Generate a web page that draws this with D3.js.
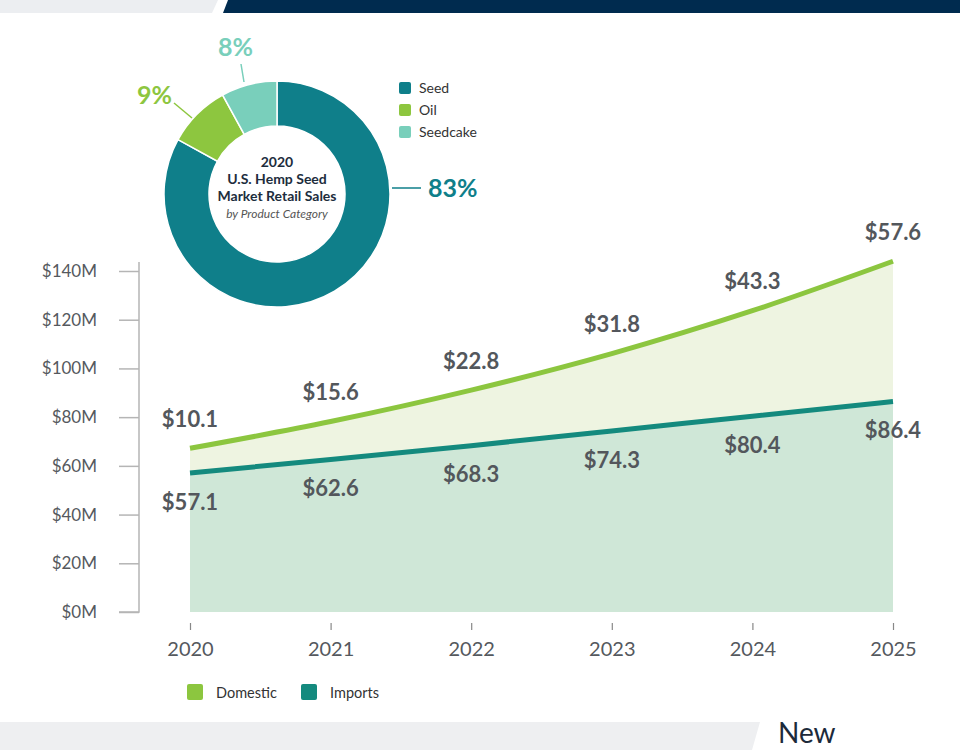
<!DOCTYPE html>
<html><head><meta charset="utf-8">
<script src="https://cdn.jsdelivr.net/npm/d3@7"></script>
<style>body{margin:0;background:#fff;}svg{display:block;font-family:Lato,"Open Sans",sans-serif;}</style>
</head><body>
<svg id="c" width="960" height="750"></svg>
<script>
const years = [2020, 2021, 2022, 2023, 2024, 2025];
const imports = [57.1, 62.6, 68.3, 74.3, 80.4, 86.4];
const domestic = [10.1, 15.6, 22.8, 31.8, 43.3, 57.6];
const yTicks = [0, 20, 40, 60, 80, 100, 120, 140];
const pieCats = ["Seed", "Oil", "Seedcake"];
const pieVals = [83, 9, 8];
const pieColors = ["#0f7f8a", "#8dc63f", "#79cfbb"];

const svg = d3.select("#c");

// top banner
svg.append("path").attr("d","M0,0H218L212,13H0Z").attr("fill","#eceef1");
svg.append("path").attr("d","M228,0H960V13H223Z").attr("fill","#002b4f");
// bottom band
svg.append("path").attr("d","M0,722H760L752,750H0Z").attr("fill","#eeeff1");
svg.append("text").attr("x",778).attr("y",743).attr("font-size",28).attr("fill","#1c2a3a").attr("font-family","Lato, sans-serif").text("New");

const x = d3.scaleLinear().domain([2020, 2025]).range([190, 893]);
const y = d3.scaleLinear().domain([0, 140]).range([612, 271]);

const rows = years.map((yr,i)=>({yr, imp: imports[i], dom: domestic[i], tot: imports[i]+domestic[i]}));
const curve = d3.curveMonotoneX;

svg.append("path").datum(rows)
  .attr("d", d3.area().x(d=>x(d.yr)).y0(d=>y(d.imp)).y1(d=>y(d.tot)).curve(curve))
  .attr("fill","#eef4e1");
svg.append("path").datum(rows)
  .attr("d", d3.area().x(d=>x(d.yr)).y0(y(0)).y1(d=>y(d.imp)).curve(curve))
  .attr("fill","#cfe7d7");
svg.append("path").datum(rows)
  .attr("d", d3.line().x(d=>x(d.yr)).y(d=>y(d.tot)).curve(curve))
  .attr("fill","none").attr("stroke","#8cc63f").attr("stroke-width",5);
svg.append("path").datum(rows)
  .attr("d", d3.line().x(d=>x(d.yr)).y(d=>y(d.imp)).curve(curve))
  .attr("fill","none").attr("stroke","#148a7e").attr("stroke-width",5);

// y axis
const yAxis = svg.append("g").attr("transform","translate(139,0)")
  .call(d3.axisLeft(y).tickValues(yTicks).tickSize(20).tickPadding(22).tickFormat(d=>"$"+d+"M"));
yAxis.select(".domain").attr("d","M0,262V612H-20").attr("stroke","#b5b5b5").attr("stroke-width",1.5);
yAxis.selectAll(".tick line").attr("stroke","#b5b5b5").attr("stroke-width",1.5);
yAxis.selectAll(".tick text").attr("font-size",17).attr("fill","#55595e").attr("font-family","Lato, sans-serif");

// x axis
const xAxis = svg.append("g").attr("transform","translate(0,623)")
  .call(d3.axisBottom(x).tickValues(years).tickSize(7).tickPadding(12).tickFormat(d3.format("d")));
xAxis.select(".domain").remove();
xAxis.selectAll(".tick line").attr("stroke","#888").attr("stroke-width",1.2);
xAxis.selectAll(".tick text").attr("font-size",20).attr("fill","#55595e").attr("font-family","Lato, sans-serif");

// value labels
svg.append("g").selectAll("text").data(rows).join("text")
  .attr("x",d=>x(d.yr)).attr("y",d=>y(d.tot)-29).attr("dy","0.35em")
  .attr("text-anchor","middle").attr("font-size",22).attr("font-weight",700).attr("fill","#53575c")
  .text(d=>"$"+d.dom.toFixed(1));
svg.append("g").selectAll("text").data(rows).join("text")
  .attr("x",d=>x(d.yr)).attr("y",d=>y(d.imp)+29).attr("dy","0.35em")
  .attr("text-anchor","middle").attr("font-size",22).attr("font-weight",700).attr("fill","#53575c")
  .text(d=>"$"+d.imp.toFixed(1));

// bottom legend
const lg = svg.append("g");
[["Domestic","#8cc63f",187,216],["Imports","#148a7e",301,330]].forEach(([t,c,sx,tx])=>{
  lg.append("rect").attr("x",sx).attr("y",684).attr("width",16).attr("height",16).attr("rx",2).attr("fill",c);
  lg.append("text").attr("x",tx).attr("y",693).attr("dy","0.35em").attr("font-size",14.5).attr("fill","#333").text(t);
});

// donut
const cx = 277, cy = 194, rO = 113, rI = 68;
const pie = d3.pie().sort(null).value(d=>d.v);
const arcs = pie(pieCats.map((c,i)=>({c, v: pieVals[i], col: pieColors[i]})));
const arc = d3.arc().innerRadius(rI).outerRadius(rO);
const dg = svg.append("g").attr("transform",`translate(${cx},${cy})`);
dg.selectAll("path").data(arcs).join("path").attr("d",arc)
  .attr("fill",d=>d.data.col).attr("stroke","#fff").attr("stroke-width",1.5);

// percent labels & leaders
const pl = svg.append("g").attr("font-weight",700).attr("font-size",25);
pl.append("line").attr("x1",392).attr("y1",188).attr("x2",421).attr("y2",188).attr("stroke",pieColors[0]).attr("stroke-width",1.5);
pl.append("text").attr("x",428).attr("y",188).attr("dy","0.35em").attr("fill",pieColors[0]).text(pieVals[0]+"%");
pl.append("line").attr("x1",174).attr("y1",103).attr("x2",192).attr("y2",118).attr("stroke",pieColors[1]).attr("stroke-width",1.5);
pl.append("text").attr("x",137).attr("y",95).attr("dy","0.35em").attr("fill",pieColors[1]).text(pieVals[1]+"%");
pl.append("line").attr("x1",241).attr("y1",64).attr("x2",244).attr("y2",82).attr("stroke",pieColors[2]).attr("stroke-width",1.5);
pl.append("text").attr("x",218).attr("y",47).attr("dy","0.35em").attr("fill",pieColors[2]).text(pieVals[2]+"%");

// center text
const ct = svg.append("g").attr("text-anchor","middle").attr("fill","#1d2d3d");
[["2020",162],["U.S. Hemp Seed",179],["Market Retail Sales",196]].forEach(([t,yy])=>{
  ct.append("text").attr("x",cx).attr("y",yy).attr("dy","0.35em").attr("font-size",14).attr("font-weight",700).text(t);
});
ct.append("text").attr("x",cx).attr("y",214).attr("dy","0.35em").attr("font-size",12).attr("font-style","italic").attr("fill","#555").text("by Product Category");

// donut legend
const dl = svg.append("g");
pieCats.forEach((c,i)=>{
  dl.append("rect").attr("x",399).attr("y",82+i*22).attr("width",12).attr("height",12).attr("rx",2).attr("fill",pieColors[i]);
  dl.append("text").attr("x",419).attr("y",88+i*22).attr("dy","0.35em").attr("font-size",14).attr("fill","#333").text(c);
});
</script>
</body></html>
